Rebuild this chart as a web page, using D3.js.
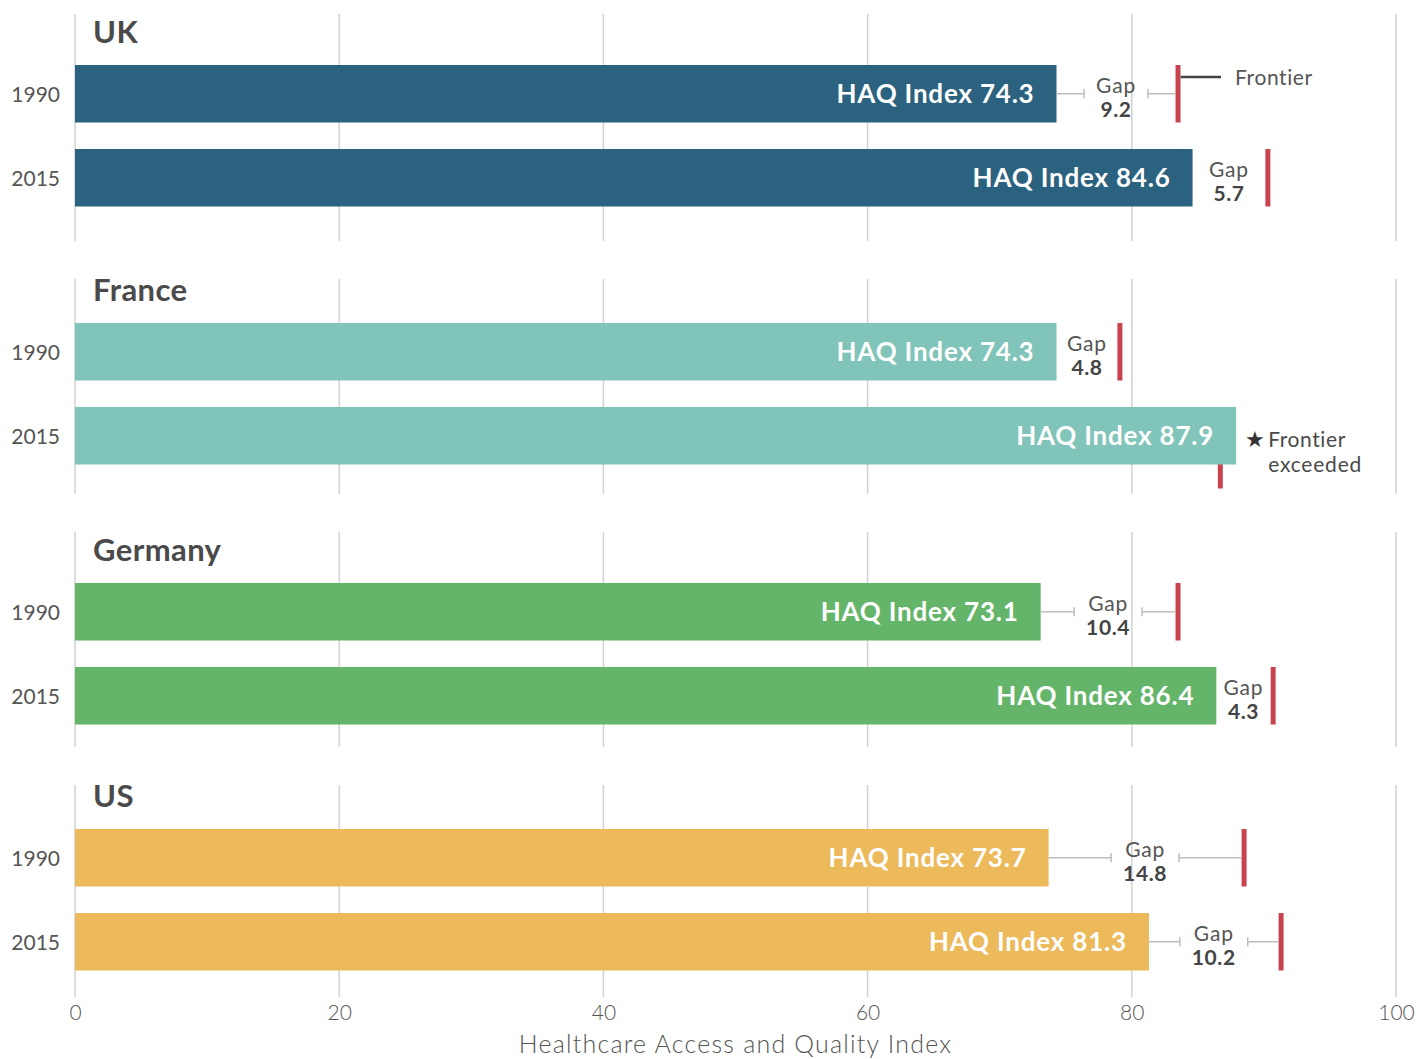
<!DOCTYPE html>
<html>
<head>
<meta charset="utf-8">
<script src="https://cdn.jsdelivr.net/npm/d3@7"></script>
<style>
  html, body { margin: 0; padding: 0; background: #fff; }
  svg { display: block; font-family: Lato, "Open Sans", sans-serif; }
</style>
</head>
<body>
<svg id="chart" width="1416" height="1059"></svg>
<script>
// ---- data ----
const countries = ["UK", "France", "Germany", "US"];
const years = ["1990", "2015"];
const haq1990 = [74.3, 74.3, 73.1, 73.7];
const haq2015 = [84.6, 87.9, 86.4, 81.3];
const gap1990 = [9.2, 4.8, 10.4, 14.8];
const gap2015 = [5.7, null, 4.3, 10.2];
const frontier1990 = [83.5, 79.1, 83.5, 88.5];
const frontier2015 = [90.3, 86.7, 90.7, 91.3];
const tickValues = [0, 20, 40, 60, 80, 100];
const countryColors = ["#2b6280", "#80c4ba", "#64b56a", "#ecb95b"];
const axisTitle = "Healthcare Access and Quality Index";

// ---- layout ----
const svg = d3.select("#chart");
const x = d3.scaleLinear().domain([0, 100]).range([75, 1396]);
const panelBarTop = [65, 323, 583, 829];
const panelGridTop = [14, 279, 532, 785];
const panelGridBottom = [241, 494, 747, 997];
const barH = 57.5, barStep = 84;
const red = "#c8434e";
const textDark = "#4a4a4a";

const gGrid = svg.append("g");
const gBars = svg.append("g");
const gLabels = svg.append("g");

countries.forEach((c, i) => {
  gGrid.selectAll(null).data(tickValues).enter().append("line")
    .attr("x1", d => x(d)).attr("x2", d => x(d))
    .attr("y1", panelGridTop[i]).attr("y2", panelGridBottom[i])
    .attr("stroke", "#d2d2d2").attr("stroke-width", 1.5);

  gLabels.append("text")
    .attr("x", 93).attr("y", panelBarTop[i] - 22)
    .attr("font-size", 31).attr("font-weight", 700).attr("letter-spacing", 0.4)
    .attr("fill", textDark).text(c);

  const rows = [
    { year: years[0], haq: haq1990[i], gap: gap1990[i], fr: frontier1990[i] },
    { year: years[1], haq: haq2015[i], gap: gap2015[i], fr: frontier2015[i] }
  ];
  const yBand = d3.scaleBand().domain(years)
    .range([panelBarTop[i], panelBarTop[i] + barStep * 2]);

  rows.forEach((r, j) => {
    const y0 = yBand(r.year);
    const cy = y0 + barH / 2;
    const exceeded = r.gap === null;

    gBars.append("rect")
      .attr("x", x(r.fr) - 2.5).attr("width", 5)
      .attr("y", y0).attr("height", exceeded ? barH + 24 : barH)
      .attr("fill", red);

    gBars.append("rect")
      .attr("x", x(0)).attr("width", x(r.haq) - x(0))
      .attr("y", y0).attr("height", barH)
      .attr("fill", countryColors[i]);

    gLabels.append("text")
      .attr("x", 60).attr("y", cy + 8)
      .attr("text-anchor", "end").attr("font-size", 21)
      .attr("fill", "#555").text(r.year);

    gLabels.append("text")
      .attr("x", x(r.haq) - 22).attr("y", cy + 9.5)
      .attr("text-anchor", "end").attr("font-size", 26).attr("font-weight", 700)
      .attr("letter-spacing", 0.8)
      .attr("fill", "#fff").text("HAQ Index " + r.haq.toFixed(1));

    if (!exceeded) {
      const xa = x(r.haq), xb = x(r.fr) - 2.5;
      const mid = (xa + xb) / 2;
      const t1 = gLabels.append("text")
        .attr("x", mid).attr("y", cy - 1)
        .attr("text-anchor", "middle").attr("font-size", 21).attr("letter-spacing", 0.8)
        .attr("fill", "#555").text("Gap");
      const t2 = gLabels.append("text")
        .attr("x", mid).attr("y", cy + 23)
        .attr("text-anchor", "middle").attr("font-size", 21).attr("font-weight", 700)
        .attr("letter-spacing", 0.6)
        .attr("fill", "#444").text(r.gap.toFixed(1));
      const tw = Math.max(t1.node().getComputedTextLength(), t2.node().getComputedTextLength());
      const half = tw / 2 + 12;
      if (mid - half - xa > 12) {
        const conn = gLabels.append("g").attr("stroke", "#bdbdbd").attr("stroke-width", 1.5);
        conn.append("line").attr("x1", xa).attr("x2", mid - half).attr("y1", cy).attr("y2", cy);
        conn.append("line").attr("x1", mid - half).attr("x2", mid - half).attr("y1", cy - 4.5).attr("y2", cy + 4.5);
        conn.append("line").attr("x1", mid + half).attr("x2", xb).attr("y1", cy).attr("y2", cy);
        conn.append("line").attr("x1", mid + half).attr("x2", mid + half).attr("y1", cy - 4.5).attr("y2", cy + 4.5);
      }
      if (i === 0 && j === 0) {
        gLabels.append("line")
          .attr("x1", x(r.fr) + 2.5).attr("x2", 1221)
          .attr("y1", y0 + 12).attr("y2", y0 + 12)
          .attr("stroke", "#444").attr("stroke-width", 2.5);
        gLabels.append("text")
          .attr("x", 1235).attr("y", y0 + 20).attr("letter-spacing", 0.6)
          .attr("font-size", 21).attr("fill", "#555").text("Frontier");
      }
    } else {
      const xs = x(r.haq) + 9;
      gLabels.append("text")
        .attr("x", xs).attr("y", cy + 11)
        .attr("font-size", 22).attr("fill", "#333").text("\u2605");
      gLabels.append("text")
        .attr("x", xs + 23).attr("y", cy + 11).attr("letter-spacing", 0.6)
        .attr("font-size", 21).attr("fill", textDark).text("Frontier");
      gLabels.append("text")
        .attr("x", xs + 23).attr("y", cy + 36).attr("letter-spacing", 0.8)
        .attr("font-size", 21).attr("fill", textDark).text("exceeded");
    }
  });
});

// ---- x axis ----
const axis = d3.axisBottom(x).tickValues(tickValues).tickSize(0).tickPadding(8);
const gAxis = svg.append("g").attr("transform", "translate(0,997)").call(axis);
gAxis.select(".domain").remove();
gAxis.selectAll("text")
  .attr("font-family", "Lato, sans-serif").attr("font-size", 21)
  .attr("font-weight", 300).attr("fill", "#555");

svg.append("text")
  .attr("x", (x(0) + x(100)) / 2).attr("y", 1053)
  .attr("text-anchor", "middle").attr("font-size", 25).attr("font-weight", 300)
  .attr("letter-spacing", 1.2)
  .attr("fill", "#555").text(axisTitle);
</script>
</body>
</html>
